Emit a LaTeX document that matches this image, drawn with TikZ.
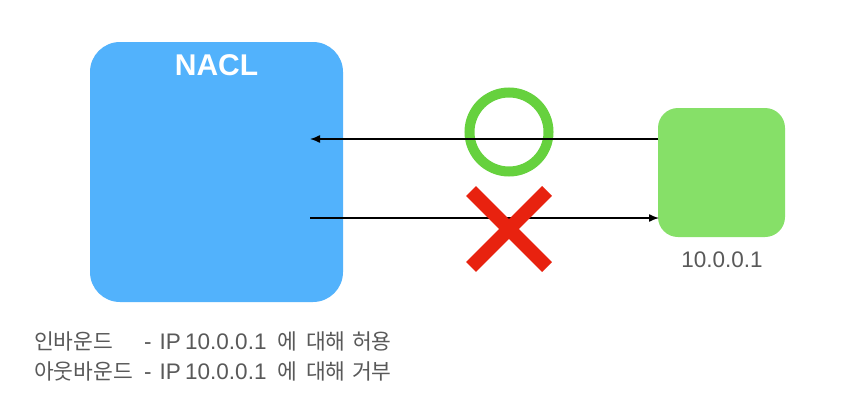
\documentclass[tikz,border=0pt]{standalone}
\usepackage{fontspec}
\usetikzlibrary{arrows.meta}
\setmainfont{Liberation Sans}
\newfontfamily\kr{Noto Sans CJK KR}
\definecolor{naclblue}{HTML}{52B2FC}
\definecolor{hostgreen}{HTML}{86E068}
\definecolor{okgreen}{HTML}{66D13E}
\definecolor{nored}{HTML}{E8220F}
\definecolor{txtgray}{HTML}{595959}
\begin{document}
\begin{tikzpicture}[x=1pt,y=-1pt,
  txt/.style={text=txtgray, inner sep=0pt, anchor=base west, font=\fontsize{22.5}{22.5}\selectfont},
  ktxt/.style={txt, font=\kr\fontsize{21.5}{21.5}\selectfont},
  flow/.style={draw=black, line width=1.4pt, -{Latex[length=10pt,width=8pt]}}]
\useasboundingbox (0,0) rectangle (846,407);
\fill[white] (0,0) rectangle (846,407);
\fill[naclblue, rounded corners=30pt] (90,42) rectangle (343,302);
\node[font=\bfseries\fontsize{30}{30}\selectfont, text=white] (nacl) at (216.5,65) {NACL};
\fill[hostgreen, rounded corners=20pt] (658,108) rectangle (785,237);
\node[font=\fontsize{22.5}{22.5}\selectfont, text=txtgray, anchor=base, inner sep=0pt] (ip) at (722,267) {10.0.0.1};
\coordinate (inR) at (658,139);
\coordinate (inL) at (310,139);
\coordinate (outL) at (310,218);
\coordinate (outR) at (659,218);
\draw[okgreen, line width=10pt] (509,132) circle (39.5);
\draw[flow] (inR) -- (inL);
\draw[flow] (outL) -- (outR);
\draw[nored, line width=14pt] (471,191) -- (547,267);
\draw[nored, line width=14pt] (547,191) -- (471,267);
% line 1
\node[ktxt] (l1a) at (34,349) {인바운드};
\node[txt]  (l1b) at (144,349) {-};
\node[txt]  (l1c) at (159.5,349) {IP};
\node[txt]  (l1d) at (185,349) {10.0.0.1};
\node[ktxt] (l1e) at (277.5,349) {에};
\node[ktxt] (l1f) at (306,349) {대해};
\node[ktxt] (l1g) at (352,349) {허용};
% line 2
\node[ktxt] (l2a) at (34,379) {아웃바운드};
\node[txt]  (l2b) at (144,379) {-};
\node[txt]  (l2c) at (159.5,379) {IP};
\node[txt]  (l2d) at (185,379) {10.0.0.1};
\node[ktxt] (l2e) at (277.5,379) {에};
\node[ktxt] (l2f) at (306,379) {대해};
\node[ktxt] (l2g) at (352,379) {거부};
\end{tikzpicture}
\end{document}
